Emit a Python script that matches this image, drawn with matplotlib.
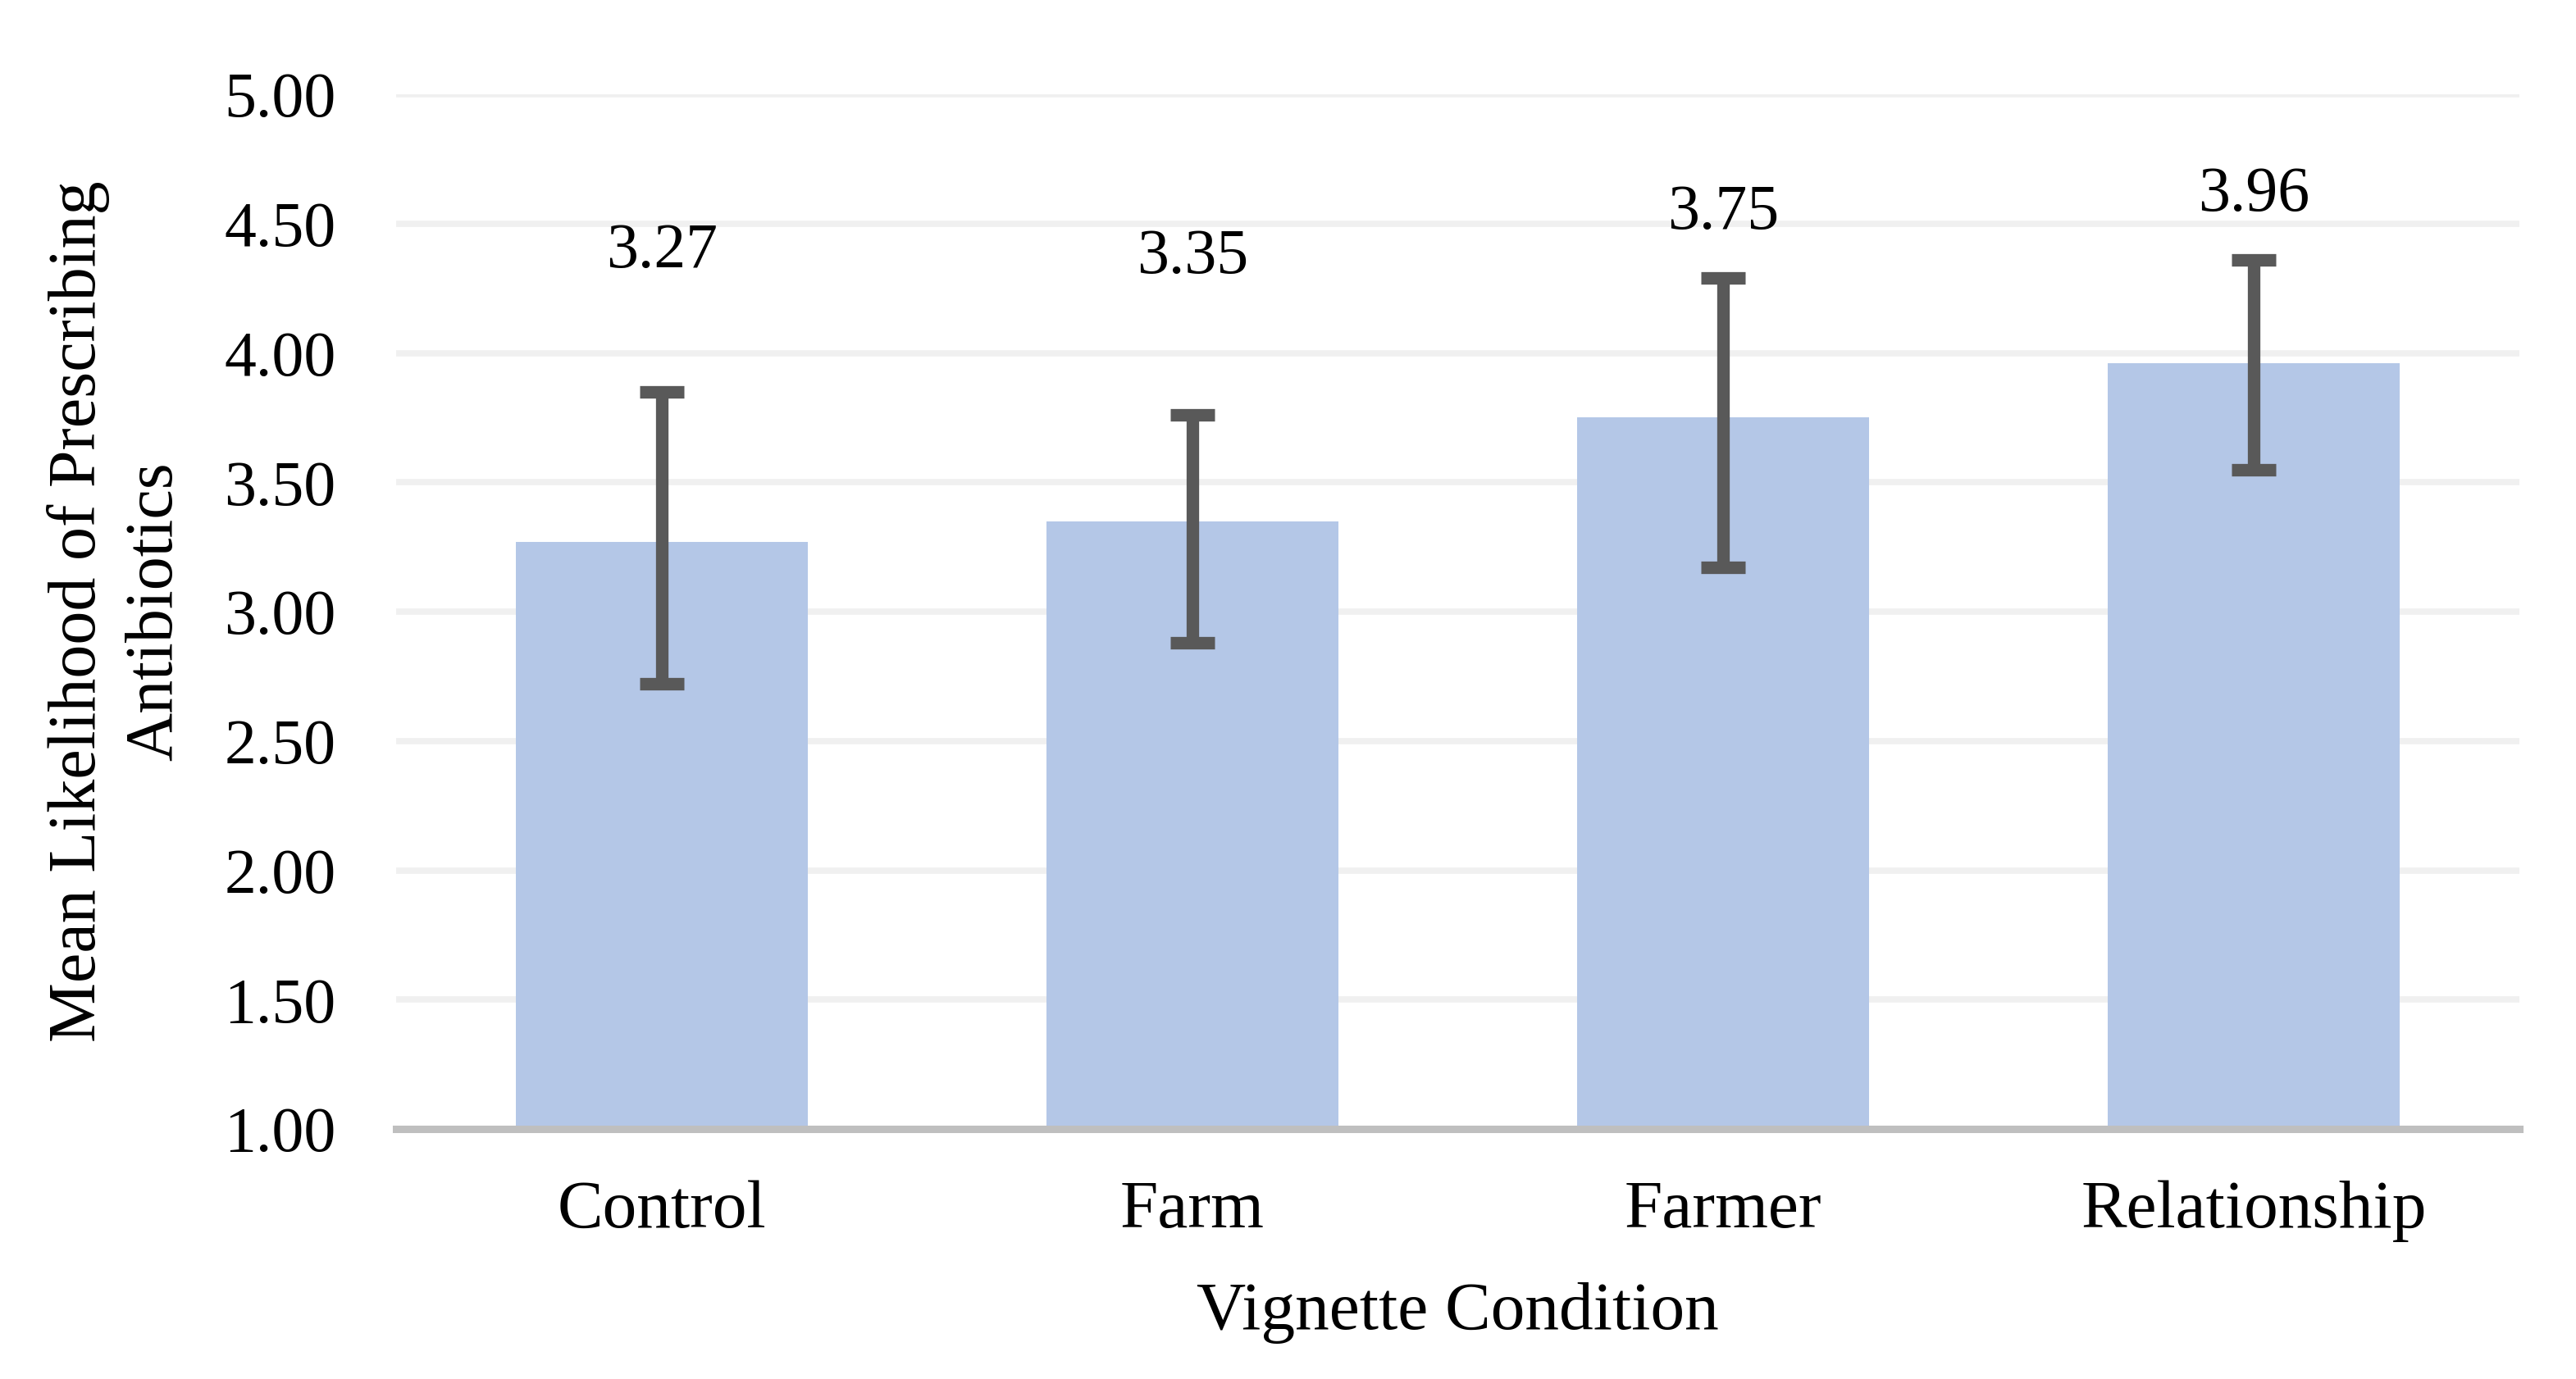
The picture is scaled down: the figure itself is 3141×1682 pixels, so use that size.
import matplotlib
matplotlib.use("Agg")
import matplotlib.pyplot as plt
import numpy as np

categories = ["Control", "Farm", "Farmer", "Relationship"]
means = [3.27, 3.35, 3.75, 3.96]
err_low = [2.72, 2.88, 3.17, 3.55]
err_high = [3.85, 3.76, 4.29, 4.36]
label_y = [4.39, 4.37, 4.54, 4.61]
yticks = [1.00, 1.50, 2.00, 2.50, 3.00, 3.50, 4.00, 4.50, 5.00]

plt.rcParams['font.family'] = ['Liberation Serif', 'DejaVu Serif']

fig = plt.figure(figsize=(31.41, 16.82), dpi=100)
ax = fig.add_axes([0.1538, 0.1813, 0.978 - 0.1538, 0.9316 - 0.1813])

x = np.arange(len(categories))
ax.bar(x, np.array(means) - 1.0, bottom=1.0, width=0.55, color="#b4c7e7", zorder=2)
lower = np.array(means) - np.array(err_low)
upper = np.array(err_high) - np.array(means)
ax.errorbar(x, means, yerr=[lower, upper], fmt="none", ecolor="#595959",
            elinewidth=11, capsize=19.5, capthick=11, zorder=3)

for xi, m, ly in zip(x, means, label_y):
    ax.text(xi, ly, f"{m:.2f}", ha="center", va="center", fontsize=56, color="black")

ax.set_ylim(1.0, 5.0)
ax.set_xlim(-0.5, 3.5)
ax.set_yticks(yticks)
ax.set_yticklabels([f"{v:.2f}" for v in yticks], fontsize=56)
ax.set_xticks(x)
ax.set_xticklabels(categories, fontsize=60)
ax.tick_params(axis="both", length=0)
ax.tick_params(axis="y", pad=53)
ax.tick_params(axis="x", pad=45)

ax.yaxis.grid(True, color="#f0f0f0", linewidth=5.5, zorder=0)
ax.set_axisbelow(True)
for s in ["top", "right", "left"]:
    ax.spines[s].set_visible(False)
ax.spines["bottom"].set_color("#bfbfbf")
ax.spines["bottom"].set_linewidth(6.5)
ax.spines["bottom"].set_zorder(4)

ax.set_xlabel("Vignette Condition", fontsize=60, labelpad=35)
ax.set_ylabel("Mean Likelihood of Prescribing\nAntibiotics", fontsize=59,
              linespacing=1.3)
ax.yaxis.set_label_coords(-0.099, 0.5)

fig.savefig("out.png", dpi=100, facecolor="white")
